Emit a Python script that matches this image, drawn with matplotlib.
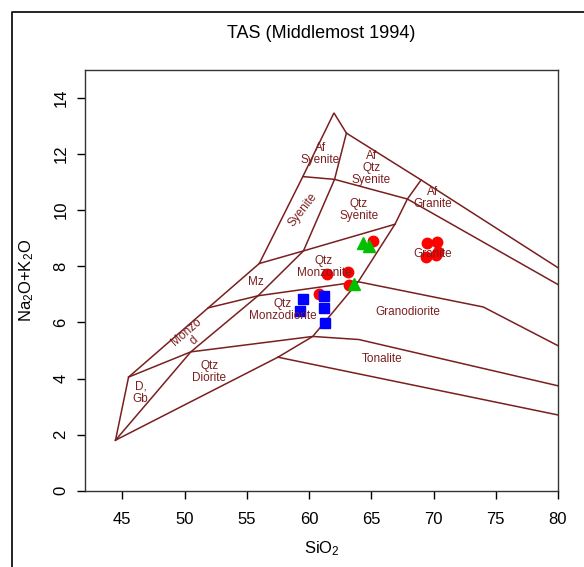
import matplotlib.pyplot as plt
from matplotlib.lines import Line2D

plt.rcParams['font.family'] = ['Liberation Sans', 'DejaVu Sans']
plt.rcParams['mathtext.fontset'] = 'custom'
plt.rcParams['mathtext.rm'] = 'Liberation Sans'
plt.rcParams['mathtext.default'] = 'regular'

# field boundaries (SiO2, Na2O+K2O)
outer_x = [44.45, 45.5, 51.9, 56.0, 59.5, 62.0, 63.0, 69.0, 80.0]
outer_y = [1.8, 4.05, 6.52, 8.1, 11.2, 13.47, 12.75, 11.08, 7.95]
diag_x = [44.45, 50.5, 55.9, 59.55, 62.05, 63.0]
diag_y = [1.8, 4.95, 6.95, 8.55, 11.1, 12.75]
qd_top_x = [45.5, 50.5, 60.3, 64.0, 80.0]
qd_top_y = [4.05, 4.95, 5.5, 5.39, 3.74]
gran_left_x = [44.45, 57.5, 60.3, 63.95, 66.9, 67.9, 69.0]
gran_left_y = [1.8, 4.76, 5.5, 7.45, 9.5, 10.4, 11.08]
mz_bot_x = [51.9, 55.9, 63.95, 74.0, 80.0]
mz_bot_y = [6.52, 6.95, 7.45, 6.55, 5.17]
qs_bot_x = [56.0, 59.55, 66.9]
qs_bot_y = [8.1, 8.55, 9.5]
af_bot_x = [59.5, 62.05, 67.9, 80.0]
af_bot_y = [11.2, 11.1, 10.4, 7.35]
ton_bot_x = [57.5, 80.0]
ton_bot_y = [4.76, 2.7]
boundaries = [(outer_x, outer_y), (diag_x, diag_y), (qd_top_x, qd_top_y),
              (gran_left_x, gran_left_y), (mz_bot_x, mz_bot_y),
              (qs_bot_x, qs_bot_y), (af_bot_x, af_bot_y), (ton_bot_x, ton_bot_y)]

# field names
field_names = ['Af\nSyenite', 'Af\nQtz\nSyenite', 'Syenite', 'Qtz\nSyenite',
               'Af\nGranite', 'Granite', 'Qtz\nMonzonite', 'Mz', 'Monzo\nd',
               'D,\nGb', 'Qtz\nDiorite', 'Qtz\nMonzodiorite', 'Granodiorite',
               'Tonalite']
field_x = [60.9, 65.0, 59.5, 64.0, 69.9, 69.9, 61.2, 55.75, 50.45,
           46.45, 52.0, 57.9, 67.9, 65.9]
field_y = [12.0, 11.5, 10.0, 10.0, 10.45, 8.45, 7.96, 7.45, 5.5,
           3.5, 4.24, 6.45, 6.36, 4.69]
field_rot = [0, 0, 52, 0, 0, 0, 0, 0, 41, 0, 0, 0, 0, 0]

# samples
red_x = [69.45, 70.25, 70.35, 69.4, 70.2, 61.42, 63.16, 65.11, 63.18, 60.83]
red_y = [8.82, 8.86, 8.5, 8.35, 8.4, 7.74, 7.79, 8.91, 7.33, 7.0]
blue_x = [59.55, 59.31, 61.18, 61.23, 61.31]
blue_y = [6.84, 6.4, 6.94, 6.53, 5.99]
green_x = [64.37, 64.85, 63.64]
green_y = [8.83, 8.74, 7.36]

line_col = '#7a1f1f'

fig = plt.figure(figsize=(5.84, 5.67), dpi=100)
ax = fig.add_axes([85/584, 1 - 490.7/567, 473/584, 420.7/567])

for bx, by in boundaries:
    ax.plot(bx, by, color=line_col, lw=1.1, solid_joinstyle='miter')

for name, x, y, r in zip(field_names, field_x, field_y, field_rot):
    ax.text(x, y, name, ha='center', va='center', rotation=r,
            fontsize=8.5, color=line_col, linespacing=1.0)

ax.plot(red_x, red_y, 'o', color='#ff0000', ms=7.5, mec='#ff0000')
ax.plot(blue_x, blue_y, 's', color='#0000ff', ms=7, mec='#0000ff')
ax.plot(green_x, green_y, '^', color='#00c000', ms=8.5, mec='#00c000')

ax.set_xlim(42, 80)
ax.set_ylim(0, 15)
ax.set_xticks(range(45, 81, 5))
ax.set_yticks(range(0, 15, 2))
ax.tick_params(length=6, width=1, labelsize=12, pad=9)
ax.tick_params(axis='y', labelrotation=90, pad=6)
for lab in ax.get_yticklabels():
    lab.set_va('center')
for s in ax.spines.values():
    s.set_color('#333333')
    s.set_linewidth(1)

fig.text(321.5/584, 1 - 33/567, 'TAS (Middlemost 1994)', ha='center',
         va='center', fontsize=13)
fig.text(321.5/584, 1 - 549/567, 'SiO$_2$', ha='center', va='center',
         fontsize=12)
fig.text(27/584, 1 - 280/567, 'Na$_2$O+K$_2$O', ha='center', va='center',
         rotation=90, fontsize=12)

# outer frame of the device region
fig.add_artist(Line2D([12/584, 12/584, 1], [0, 1 - 12/567, 1 - 12/567],
                      transform=fig.transFigure, color='black', lw=1.2))

fig.savefig('out.png', dpi=100)
